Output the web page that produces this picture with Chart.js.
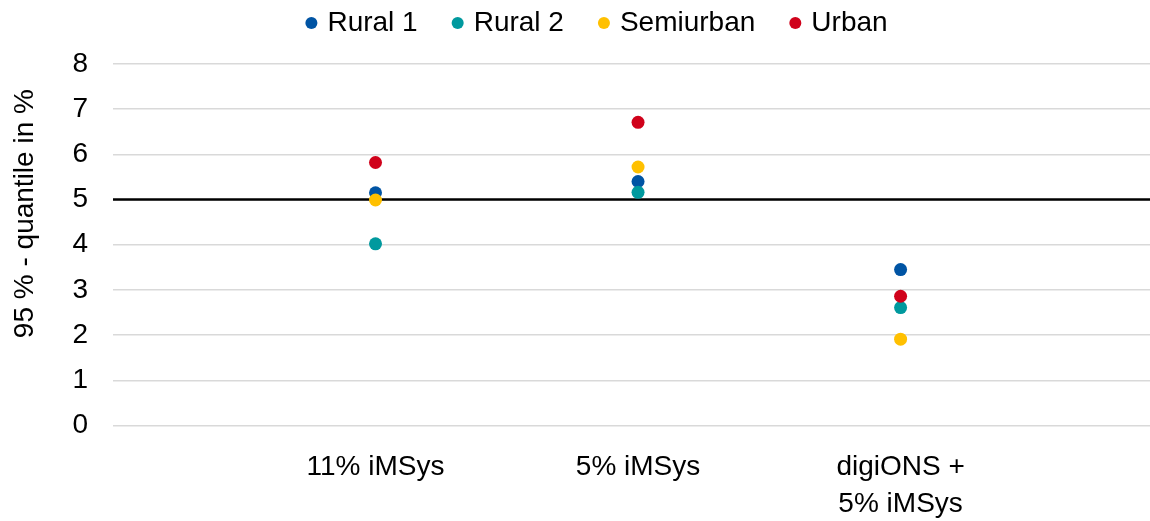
<!DOCTYPE html>
<html>
<head>
<meta charset="utf-8">
<script src="https://cdn.jsdelivr.net/npm/chart.js@4"></script>
<style>
  html, body { margin: 0; padding: 0; background: #fff; overflow: hidden; }
  #wrap { width: 1150px; height: 521px; position: relative; }
</style>
</head>
<body>
<div id="wrap"><canvas id="quantileChart"></canvas></div>
<script>
// categories on the x axis (multi-line label as array)
var categories = ['11% iMSys', '5% iMSys', ['digiONS +', '5% iMSys']];

// 95 % quantile values per area type
var rural1 = [5.15, 5.40, 3.45];
var rural2 = [4.02, 5.16, 2.61];
var semiurban = [4.99, 5.72, 1.91];
var urban = [5.82, 6.71, 2.86];

// limit line
var limitValue = 5;
var yMin = 0;
var yMax = 8;
// the plot runs up to the right border of the picture
var xMin = 0;
var xMax = 3.95;

var seriesNames = ['Rural 1', 'Rural 2', 'Semiurban', 'Urban'];
var seriesValues = [rural1, rural2, semiurban, urban];
var seriesColors = ['#0054a4', '#00999e', '#ffc000', '#d0021b'];

var FONT = 'Liberation Sans, Arial, sans-serif';

function toPoints(values) {
    return values.map(function(v, i) {
        return { x: i + 1, y: v };
    });
}

var datasets = seriesNames.map(function(name, i) {
    return {
        label: name,
        data: toPoints(seriesValues[i]),
        backgroundColor: seriesColors[i],
        borderColor: seriesColors[i],
        borderWidth: 0,
        pointRadius: 6.5,
        pointHoverRadius: 6.5,
        pointStyle: 'circle',
        // later series are drawn on top, like the original
        order: seriesNames.length - i
    };
});

datasets.push({
    label: 'limit',
    data: [{ x: xMin, y: limitValue }, { x: xMax, y: limitValue }],
    showLine: true,
    borderColor: '#000000',
    backgroundColor: '#000000',
    borderWidth: 2.5,
    pointRadius: 0,
    pointHoverRadius: 0,
    order: 10
});

// Add some space below the legend
var legendGap = {
    id: 'legendGap',
    beforeInit: function(chart) {
        var origFit = chart.legend.fit;
        chart.legend.fit = function() {
            origFit.bind(chart.legend)();
            this.height += 17;
        };
    }
};

var ctx = document.getElementById('quantileChart').getContext('2d');
new Chart(ctx, {
    type: 'scatter',
    data: { datasets: datasets },
    plugins: [legendGap],
    options: {
        responsive: true,
        maintainAspectRatio: false,
        animation: false,
        layout: {
            autoPadding: false,
            // right padding only moves the legend, the plot stops at the border
            padding: { top: -29, left: 7, right: -40, bottom: -26 }
        },
        plugins: {
            legend: {
                position: 'top',
                labels: {
                    usePointStyle: true,
                    boxWidth: 4,
                    boxHeight: 8.5,
                    padding: 38,
                    color: '#000',
                    font: { family: FONT, size: 28 },
                    filter: function(item) {
                        return item.text !== 'limit';
                    },
                    sort: function(a, b) {
                        return a.datasetIndex - b.datasetIndex;
                    }
                }
            },
            tooltip: { enabled: false }
        },
        scales: {
            x: {
                type: 'linear',
                min: xMin,
                max: xMax,
                grid: { display: false, drawTicks: false },
                border: { display: false },
                afterBuildTicks: function(scale) {
                    scale.ticks = categories.map(function(c, i) {
                        return { value: i + 1 };
                    });
                },
                ticks: {
                    padding: 23.8,
                    color: '#000',
                    maxRotation: 0,
                    font: { family: FONT, size: 28, lineHeight: 1.32 },
                    callback: function(value) {
                        return categories[value - 1];
                    }
                }
            },
            y: {
                min: yMin,
                max: yMax,
                grid: { color: '#d9d9d9', lineWidth: 1.5, drawTicks: false },
                border: { display: false },
                ticks: {
                    stepSize: 1,
                    padding: 25,
                    color: '#000',
                    font: { family: FONT, size: 28 }
                },
                title: {
                    display: true,
                    // leading spaces push the title a bit upwards
                    text: '        95 % - quantile in %',
                    color: '#000',
                    font: { family: FONT, size: 28, lineHeight: 1 },
                    padding: { top: 4, bottom: 8.4 }
                }
            }
        }
    }
});
</script>
</body>
</html>
